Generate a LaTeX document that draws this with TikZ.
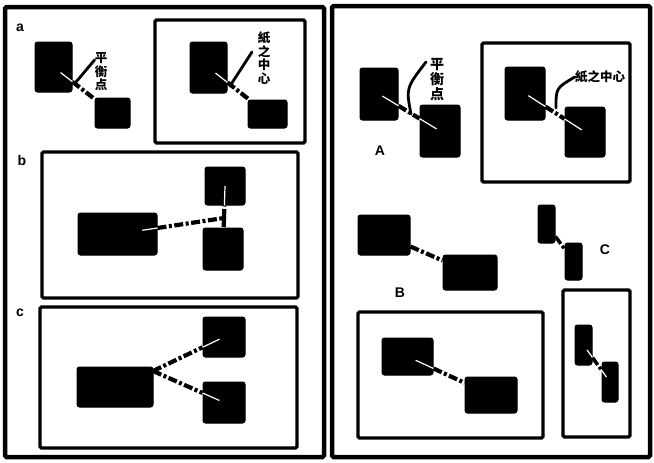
\documentclass[tikz,border=0pt]{standalone}
\usepackage{fontspec}
\setsansfont{Liberation Sans}
\newfontfamily\cjk{Noto Sans CJK TC}
\begin{document}
\begin{tikzpicture}[x=1pt,y=-1pt,
  blk/.style={fill=black,draw=black,rounded corners=2.5pt,inner sep=0pt,line width=1pt},
  outerframe/.style={line width=4.5pt,rounded corners=1.5pt},
  inbox/.style={line width=3.3pt,rounded corners=1.5pt},
  conn/.style={line width=4.2pt,dash pattern=on 9pt off 2.5pt on 3pt off 2.5pt,line cap=butt},
  glint/.style={white,line width=1.2pt,shorten >=9pt},
  stroke/.style={line width=2.8pt,line cap=round},
  lbl/.style={font=\sffamily\bfseries\fontsize{14}{14}\selectfont,inner sep=0pt},
  cjkv/.style={font=\cjk\bfseries\fontsize{12.5}{13.5}\selectfont,align=center,inner sep=0pt},
  cjkh/.style={font=\cjk\bfseries\fontsize{12.5}{12.5}\selectfont,inner sep=0pt}]
\useasboundingbox[fill=white] (0,0) rectangle (654,463);

% ---------- left panel ----------
\draw[outerframe] (5,7) rectangle (324,457);
\node[lbl] (la) at (20,28) {a};
\node[blk,minimum width=37,minimum height=50] (a1) at (53.5,67) {};
\node[blk,minimum width=35,minimum height=30] (a2) at (112.5,113) {};
\draw[glint] (a2) -- (a1.center);
\draw[conn] (a1) -- (a2);
\node[cjkv] (ta1) at (101,72) {平\\衡\\点};
\coordinate (sa1) at (76,82);
\draw[stroke] (sa1) -- (ta1.west |- 0,60);

\draw[inbox] (155,20) rectangle (305,143);
\node[blk,minimum width=37,minimum height=51] (a3) at (208.5,67.5) {};
\node[blk,minimum width=39,minimum height=28] (a4) at (267.5,114) {};
\draw[glint] (a4) -- (a3.center);
\draw[conn] (a3) -- (a4);
\node[cjkv] (ta2) at (264,58) {紙\\之\\中\\心};
\coordinate (sa2) at (230,86);
\coordinate (sa2e) at (252,52);
\draw[stroke] (sa2) -- (sa2e);

\node[lbl] (lb) at (22,160) {b};
\draw[inbox] (42,152) rectangle (298,298);
\node[blk,minimum width=79,minimum height=42] (b1) at (117.5,234) {};
\node[blk,minimum width=40,minimum height=38] (b2) at (225,186) {};
\node[blk,minimum width=40,minimum height=42] (b3) at (223,249) {};
\coordinate (bj) at (224,218);
\draw[white,line width=1.2pt,shorten >=25pt] (bj) -- (b1.center);
\draw[white,line width=1.2pt] (bj) -- (b2.center);
\draw[conn] (b1) -- (bj);
\draw[conn] (bj) -- (b2);
\draw[conn] (bj) -- (b3);

\node[lbl] (lc) at (20,313) {c};
\draw[inbox] (40,307) rectangle (297,448);
\node[blk,minimum width=76,minimum height=40] (c1) at (115,387) {};
\node[blk,minimum width=42,minimum height=40] (c2) at (224,337) {};
\node[blk,minimum width=42,minimum height=41] (c3) at (224,402.5) {};
\coordinate (cj) at (153,371);
\draw[white,line width=1.2pt,shorten >=5pt] (cj) -- (c2.center);
\draw[white,line width=1.2pt,shorten >=5pt] (cj) -- (c3.center);
\draw[conn] (cj) -- (c2);
\draw[conn] (cj) -- (c3);

% ---------- right panel ----------
\draw[outerframe] (332,6) rectangle (650,457);
\node[blk,minimum width=38,minimum height=52] (A1) at (379,94) {};
\node[blk,minimum width=40,minimum height=52] (A2) at (440,131) {};
\draw[white,line width=1.2pt,shorten <=4pt,shorten >=4pt] (A1.center) -- (A2.center);
\draw[conn] (A1) -- (A2);
\node[cjkv,font=\cjk\bfseries\fontsize{14}{15}\selectfont] (tA1) at (437,80) {平\\衡\\点};
\coordinate (sA1) at (411,114);
\coordinate (sA1e) at (426,62);
\draw[stroke] (sA1) .. controls (406,88) .. (sA1e);
\node[lbl] (lA) at (380,151) {A};

\draw[inbox] (482,43) rectangle (630,182);
\node[blk,minimum width=40,minimum height=53] (A3) at (525,93.5) {};
\node[blk,minimum width=40,minimum height=50] (A4) at (585,132) {};
\draw[white,line width=1.2pt,shorten <=4pt,shorten >=4pt] (A3.center) -- (A4.center);
\draw[conn] (A3) -- (A4);
\node[cjkh] (tA2) at (600,77) {紙之中心};
\coordinate (sA2) at (556,108);
\draw[stroke] (sA2) .. controls (556,88) .. (tA2.west);

\node[blk,minimum width=52,minimum height=40] (B1) at (384,235) {};
\node[blk,minimum width=54,minimum height=35] (B2) at (470,272.5) {};
\draw[conn] (B1) -- (B2);
\node[lbl] (lB) at (400,293) {B};

\draw[inbox] (358,312) rectangle (543,438);
\node[blk,minimum width=51,minimum height=37] (B3) at (407.5,356.5) {};
\node[blk,minimum width=52,minimum height=36] (B4) at (491,395) {};
\draw[glint] (B4) -- (B3.center);
\draw[conn] (B3) -- (B4);

\node[blk,minimum width=17,minimum height=38] (C1) at (546.5,224) {};
\node[blk,minimum width=17,minimum height=37] (C2) at (573.5,261.5) {};
\draw[conn,line width=3.5pt] (C1) -- (C2);
\node[lbl] (lC) at (605,250) {C};

\draw[inbox] (563,290) rectangle (630,437);
\node[blk,minimum width=17,minimum height=40] (C3) at (583.5,345) {};
\node[blk,minimum width=16,minimum height=40] (C4) at (610,382) {};
\draw[white,line width=1.2pt,shorten <=6pt,shorten >=6pt] (C3.center) -- (C4.center);
\draw[conn,line width=3.5pt] (C3) -- (C4);
\end{tikzpicture}
\end{document}
